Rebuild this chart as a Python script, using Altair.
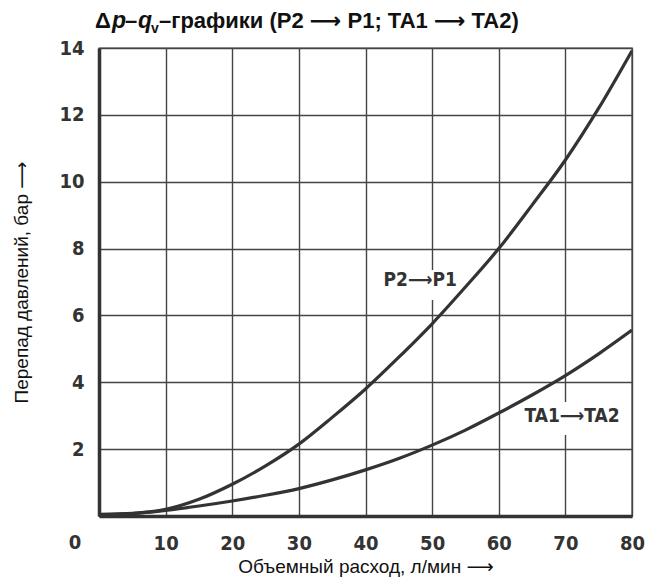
import altair as alt
import pandas as pd

# Curve data (flow l/min -> pressure drop bar)
flow = [0, 5, 10, 15, 20, 25, 30, 35, 40, 45, 50, 55, 60, 65, 70, 75, 80]
dp_p2p1 = [0.05, 0.08, 0.2, 0.5, 0.95, 1.5, 2.15, 2.95, 3.8, 4.75, 5.75, 6.85, 8.0, 9.3, 10.65, 12.2, 13.92]
dp_ta1ta2 = [0.03, 0.07, 0.17, 0.3, 0.45, 0.62, 0.82, 1.08, 1.38, 1.72, 2.12, 2.57, 3.08, 3.62, 4.2, 4.85, 5.56]

x_ticks = [10, 20, 30, 40, 50, 60, 70, 80]
y_ticks = [2, 4, 6, 8, 10, 12, 14]

label_text = ["P2\u27f6P1", "TA1\u27f6TA2"]
label_x = [48.2, 71.0]
label_y = [7.06, 2.99]
bg_x1 = [42.6, 63.2]
bg_x2 = [53.9, 78.9]
bg_y1 = [6.46, 2.42]
bg_y2 = [7.36, 3.41]

INK = "#333333"
NUMFONT = "DejaVu Sans Condensed, Liberation Sans Narrow, Open Sans, sans-serif"
SANS = "Liberation Sans, Arial, DejaVu Sans, sans-serif"

curves = pd.DataFrame(
    {"flow": flow * 2,
     "dp": dp_p2p1 + dp_ta1ta2,
     "series": ["P2-P1"] * len(flow) + ["TA1-TA2"] * len(flow)}
)
labels = pd.DataFrame({"text": label_text, "x": label_x, "y": label_y,
                       "x1": bg_x1, "x2": bg_x2, "y1": bg_y1, "y2": bg_y2})

xs = alt.Scale(domain=[0, 80], nice=False, zero=False)
ys = alt.Scale(domain=[0, 14], nice=False, zero=False)

x_axis = alt.Axis(values=[0] + x_ticks, title="Объемный расход, л/мин \u27f6",
                  labelExpr="datum.value == 0 ? '' : datum.label",
                  labelFlush=False,
                  grid=True, gridColor="#444444", gridWidth=1.4, gridOpacity=1,
                  domain=True, domainColor=INK, domainWidth=3.5,
                  ticks=False, labelPadding=17, labelFont=NUMFONT, labelFontSize=20,
                  labelFontWeight="bold", labelColor=INK,
                  titleFont=SANS, titleFontSize=19, titleFontWeight="normal",
                  titleColor="#111111", titlePadding=4)
y_axis = alt.Axis(values=[0] + y_ticks, title="Перепад давлений, бар \u27f6",
                  labelExpr="datum.value == 0 ? '' : datum.label",
                  labelFlush=False,
                  grid=True, gridColor="#444444", gridWidth=1.4, gridOpacity=1,
                  domain=True, domainColor=INK, domainWidth=3.5,
                  ticks=False, labelPadding=15, labelFont=NUMFONT, labelFontSize=20,
                  labelFontWeight="bold", labelColor=INK,
                  titleFont=SANS, titleFontSize=19, titleFontWeight="normal",
                  titleColor="#111111", titlePadding=27)

base_grid = alt.Chart(curves).mark_line(opacity=0).encode(
    x=alt.X("flow:Q", scale=xs, axis=x_axis),
    y=alt.Y("dp:Q", scale=ys, axis=y_axis),
    detail="series:N",
)

lines = alt.Chart(curves).mark_line(color=INK, strokeWidth=3.2, clip=True,
                                    interpolate="monotone").encode(
    x=alt.X("flow:Q", scale=xs),
    y=alt.Y("dp:Q", scale=ys),
    detail="series:N",
)

bg = alt.Chart(labels).mark_rect(color="white").encode(
    x=alt.X("x1:Q", scale=xs), x2="x2:Q",
    y=alt.Y("y1:Q", scale=ys), y2="y2:Q",
)

txt = alt.Chart(labels).mark_text(font=NUMFONT, fontSize=19, fontWeight="bold",
                                  color=INK).encode(
    x=alt.X("x:Q", scale=xs), y=alt.Y("y:Q", scale=ys), text="text:N"
)

zero_lbl = alt.Chart(pd.DataFrame({"x": [0], "y": [0], "t": ["0"]})).mark_text(
    font=NUMFONT, fontSize=20, fontWeight="bold", color=INK, dx=-24, dy=27
).encode(x=alt.X("x:Q", scale=xs), y=alt.Y("y:Q", scale=ys), text="t:N")

# Title pieces (rich text: italic p, q and subscript v)
title_parts = pd.DataFrame({
    "t": ["\u0394", "p", "\u2013", "q", "v", "\u2013графики (P2 \u27f6 P1; TA1 \u27f6 TA2)"],
    "px": [-4, 13, 26, 39, 52, 60],
    "dy": [0, 0, 0, 0, 5, 0],
    "fs": [22, 23, 22, 23, 14, 22],
    "style": ["normal", "italic", "normal", "italic", "normal", "normal"],
})
title_layers = []
for _, r in title_parts.iterrows():
    title_layers.append(
        alt.Chart(pd.DataFrame({"t": [r["t"]]})).mark_text(
            font=SANS, fontSize=int(r["fs"]), fontWeight="bold", fontStyle=r["style"],
            color="#111111", align="left", baseline="alphabetic",
            dy=int(r["dy"])
        ).encode(x=alt.value(float(r["px"])), y=alt.value(-20), text="t:N")
    )

chart = alt.layer(base_grid, bg, lines, txt, zero_lbl, *title_layers).properties(
    width=533, height=468,
    autosize=alt.AutoSizeParams(type="none"),
    padding={"left": 91, "top": 40, "right": 27, "bottom": 62},
).configure_view(stroke="#444444", strokeWidth=1.4)

chart.save("out.html", embed_options={"renderer": "svg", "actions": False})
